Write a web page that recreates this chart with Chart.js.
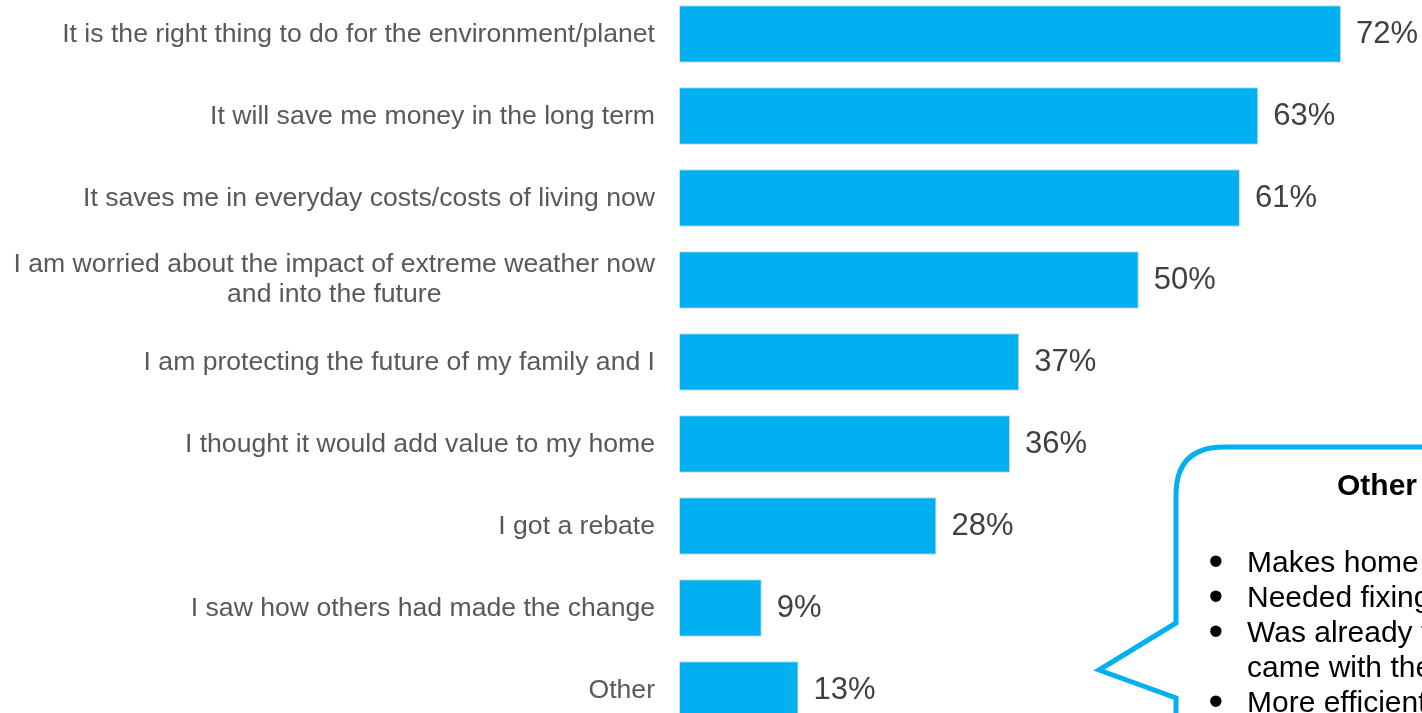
<!DOCTYPE html>
<html>
<head>
<meta charset="utf-8">
<script src="https://cdn.jsdelivr.net/npm/chart.js@4.4.1/dist/chart.umd.min.js"></script>
<style>
  html, body { margin:0; padding:0; background:#fff; overflow:hidden; }
  body { width:1422px; height:713px; position:relative; font-family:"Liberation Sans", Arial, sans-serif; }
  #wrap { position:absolute; left:0; top:-7px; width:1422px; height:738px; }
  #bubble { position:absolute; left:0; top:0; width:1422px; height:713px; pointer-events:none; }
  .callout { position:absolute; color:#000; font-size:30px; white-space:nowrap; }
  .callout .head { position:absolute; left:1337px; top:468px; font-weight:bold; }
  .callout ul { position:absolute; left:1211px; top:544px; margin:0; padding:0; list-style:none; line-height:35px; }
  .callout li .b { display:inline-block; width:36px; transform:scale(1.4); transform-origin:6px 62%; }
  .callout li .cont { padding-left:36px; }
</style>
</head>
<body>
<div id="wrap"><canvas id="reasonChart"></canvas></div>

<svg id="bubble" width="1422" height="713">
  <path d="M1176,730 L1176,698 L1099,670 L1176,623 L1176,495 Q1176,447 1224,447 L1440,447"
        fill="none" stroke="#00b0f0" stroke-width="5" stroke-linejoin="miter"/>
</svg>
<div class="callout">
  <div class="head">Other</div>
  <ul>
    <li><span class="b">•</span>Makes home more comfortable</li>
    <li><span class="b">•</span>Needed fixing/replacing</li>
    <li><span class="b">•</span>Was already there/<div class="cont">came with the house</div></li>
    <li><span class="b">•</span>More efficient</li>
  </ul>
</div>

<script>
const reasons = [
  'It is the right thing to do for the environment/planet',
  'It will save me money in the long term',
  'It saves me in everyday costs/costs of living now',
  ['I am worried about the impact of extreme weather now', 'and into the future'],
  'I am protecting the future of my family and I',
  'I thought it would add value to my home',
  'I got a rebate',
  'I saw how others had made the change',
  'Other'
];
const shares = [72, 63, 61, 50, 37, 36, 28, 9, 13];

const FONT = '"Liberation Sans", Arial, sans-serif';

// category labels: right aligned, multi-line blocks centred on themselves
const catLabels = {
  id: 'catLabels',
  afterDraw(chart) {
    const ctx = chart.ctx, y = chart.scales.y;
    const right = chart.chartArea.left - 24;
    ctx.save();
    ctx.font = '26.6px ' + FONT;
    ctx.fillStyle = '#595959';
    ctx.textBaseline = 'middle';
    reasons.forEach((lab, i) => {
      const cy = y.getPixelForTick(i);
      if (Array.isArray(lab)) {
        const w = Math.max(...lab.map(l => ctx.measureText(l).width));
        const lh = 30;
        ctx.textAlign = 'center';
        lab.forEach((l, k) => {
          ctx.fillText(l, right - w / 2, cy + (k - (lab.length - 1) / 2) * lh);
        });
      } else {
        ctx.textAlign = 'right';
        ctx.fillText(lab, right, cy + 1);
      }
    });
    ctx.restore();
  }
};

// value labels at bar ends
const valueLabels = {
  id: 'valueLabels',
  afterDatasetsDraw(chart) {
    const ctx = chart.ctx;
    const meta = chart.getDatasetMeta(0);
    ctx.save();
    ctx.font = '31px ' + FONT;
    ctx.fillStyle = '#404040';
    ctx.textAlign = 'left';
    ctx.textBaseline = 'middle';
    meta.data.forEach((bar, i) => {
      ctx.fillText(shares[i] + '%', bar.x + 15, bar.y + 0.5);
    });
    ctx.restore();
  }
};

new Chart(document.getElementById('reasonChart'), {
  type: 'bar',
  data: {
    labels: reasons,
    datasets: [{
      data: shares,
      backgroundColor: '#00b0f0',
      borderColor: '#d6d6d6',
      borderWidth: 1,
      borderSkipped: false,
      barPercentage: 0.7,
      categoryPercentage: 1
    }]
  },
  options: {
    indexAxis: 'y',
    responsive: true, maintainAspectRatio: false,
    animation: false,
    layout: { padding: 0 },
    plugins: { legend: { display: false }, tooltip: { enabled: false } },
    scales: {
      x: { display: false, min: 0, max: 80.8 },
      y: {
        grid: { display: false, drawTicks: false },
        border: { display: false },
        ticks: { display: false },
        afterFit(scale) { scale.width = 679; }
      }
    }
  },
  plugins: [catLabels, valueLabels]
});
</script>
</body>
</html>
